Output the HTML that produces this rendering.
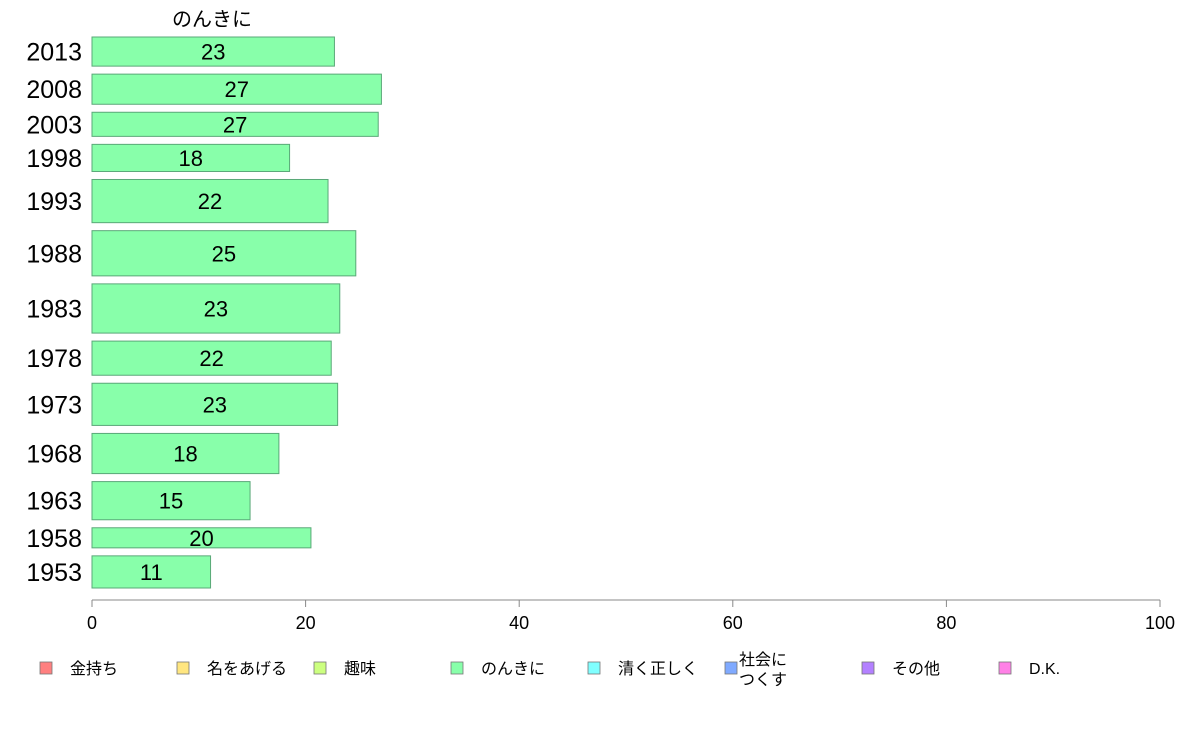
<!DOCTYPE html>
<html><head><meta charset="utf-8"><style>
body{margin:0;background:#fff;}
svg text{font-family:"Liberation Sans","Noto Sans CJK JP",sans-serif;}
</style></head><body>
<svg width="1188" height="736" xmlns="http://www.w3.org/2000/svg">
<g id="plot"></g>
</svg>
<script>
const years=["2013","2008","2003","1998","1993","1988","1983","1978","1973","1968","1963","1958","1953"];
const values=[22.7,27.1,26.8,18.5,22.1,24.7,23.2,22.4,23.0,17.5,14.8,20.5,11.1];
const labels=["23","27","27","18","22","25","23","22","23","18","15","20","11"];
const sampleSize=[29,30,24,27,43,45,49,34,42,40,38,20,32];
const ticks=[0,20,40,60,80,100];
const legendNames=["金持ち","名をあげる","趣味","のんきに","清く正しく","社会に\nつくす","その他","D.K."];
const legendColors=["#ff8080","#ffe680","#ccff80","#88ffaa","#80ffff","#80aaff","#b380ff","#ff80e6"];
const NS="http://www.w3.org/2000/svg";
const plotG=document.getElementById('plot');
const x0=92,x1=1160;
const xs=v=>x0+(x1-x0)*v/100;
function mk(t,a){const e=document.createElementNS(NS,t);for(const k in a)e.setAttribute(k,a[k]);plotG.appendChild(e);return e;}
const title=mk('text',{x:212,y:26,'font-size':20,'text-anchor':'middle',fill:'#000'});title.textContent="のんきに";


const topY=37,bottomY=588,gap=8;
const total=sampleSize.reduce((a,b)=>a+b,0);
const scale=(bottomY-topY-gap*(years.length-1))/total;
let yy=topY;
years.forEach((yr,i)=>{
  const h=sampleSize[i]*scale;
  const r=mk('rect',{x:x0,y:yy,width:xs(values[i])-x0,height:h,fill:'#88ffaa',stroke:'#5aa878','stroke-width':1});
  
  
  const t=mk('text',{x:(x0+xs(values[i]))/2,y:yy+h/2+8,'font-size':22,'text-anchor':'middle',fill:'#000'});t.textContent=labels[i];
  
  
  const yl=mk('text',{x:82,y:yy+h/2+9,'font-size':25,'text-anchor':'end',fill:'#000'});yl.textContent=yr;
  
  
  yy+=h+gap;
});
const ax=mk('line',{x1:x0,x2:x1,y1:600,y2:600,stroke:'#888','stroke-width':1});


ticks.forEach(v=>{
  const l=mk('line',{x1:xs(v),x2:xs(v),y1:600,y2:607,stroke:'#888'});
  
  
  const t=mk('text',{x:xs(v),y:629,'font-size':18,'text-anchor':'middle',fill:'#000'});t.textContent=v;
  
  
});
legendNames.forEach((n,i)=>{
  const bx=40+i*137;
  const b=mk('rect',{x:bx,y:662,width:12,height:12,fill:legendColors[i],stroke:'#777','stroke-width':0.8});
  
  
  const parts=n.split('\n');
  parts.forEach((p,j)=>{
    const t=mk('text',{x:bx+(parts.length>1?14:30),y:parts.length>1?665+j*20:674,'font-size':16,fill:'#000'});t.textContent=p;
    
    
  });
});
</script>
</body></html>
